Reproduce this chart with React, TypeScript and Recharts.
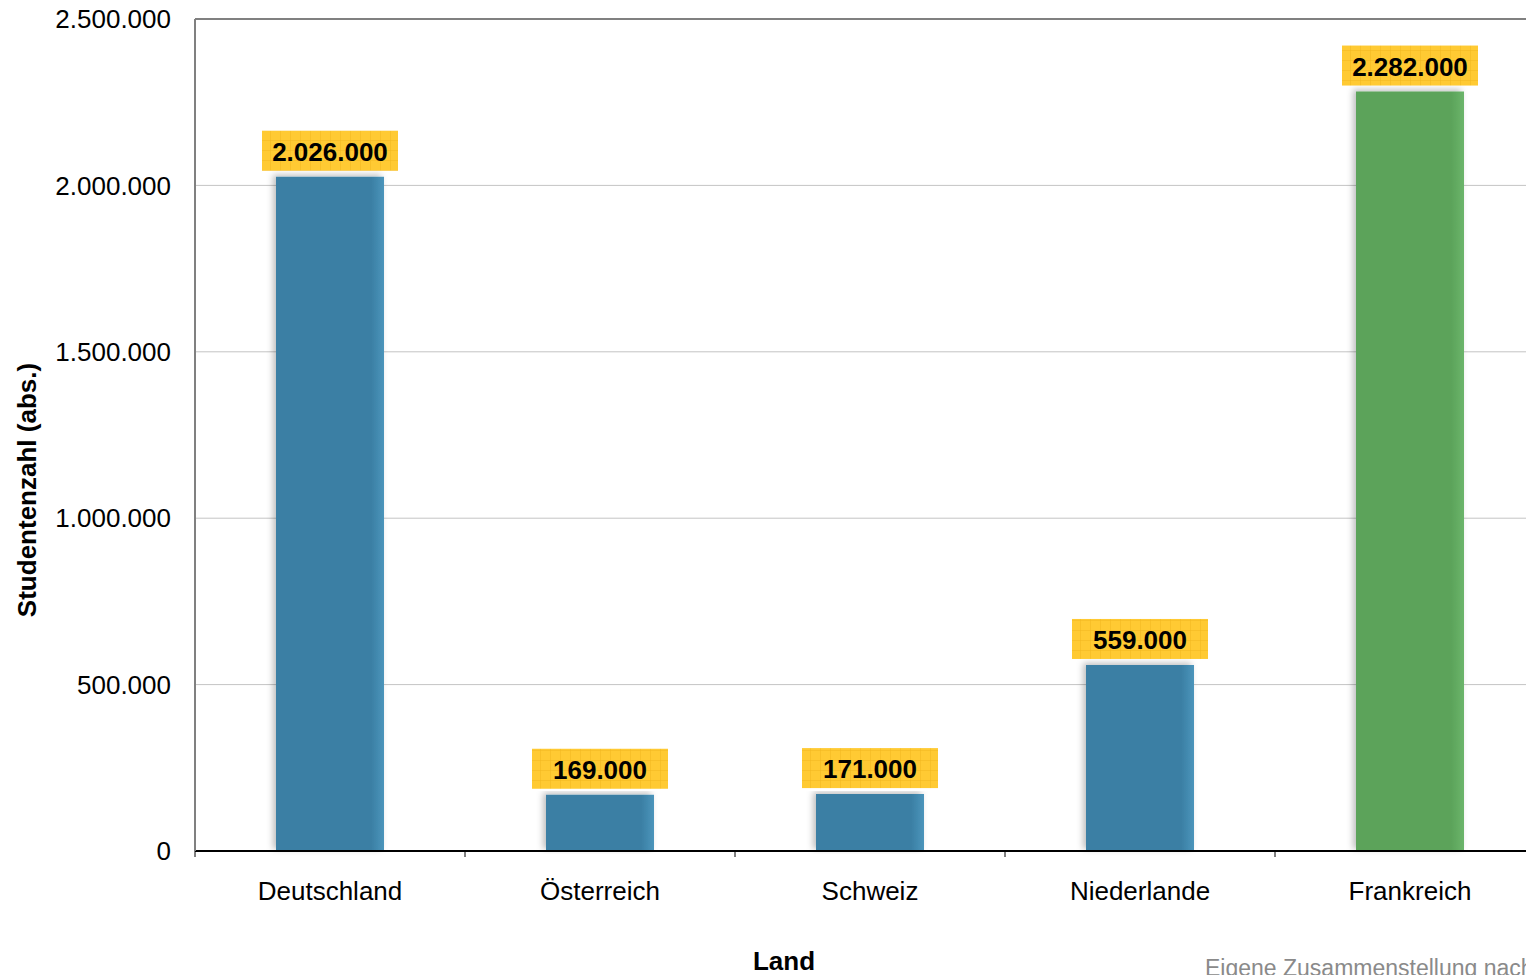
import {
  BarChart,
  Bar,
  XAxis,
  YAxis,
  CartesianGrid,
  ReferenceLine,
  LabelList,
  Cell,
} from "recharts";

const laender = ["Deutschland", "Österreich", "Schweiz", "Niederlande", "Frankreich"];
const studenten = [2026000, 169000, 171000, 559000, 2282000];
const farben = ["blue", "blue", "blue", "blue", "green"];
const yTicks = [0, 500000, 1000000, 1500000, 2000000, 2500000];

const data = laender.map((land, i) => ({ land, wert: studenten[i], farbe: farben[i] }));

const font = "'Liberation Sans', Arial, sans-serif";

// 2026000 -> "2.026.000"
const fmt = (v: number) => String(v).replace(/\B(?=(\d{3})+(?!\d))/g, ".");

function XTick(props: any) {
  const { x, y, payload } = props;
  const left = x - (payload.offset || 0);
  return (
    <g>
      <line x1={left} y1={851} x2={left} y2={857} stroke="#000" strokeWidth={1} />
      <text x={x} y={y + 41} textAnchor="middle" fontSize={26} fontFamily={font} fill="#000">
        {payload.value}
      </text>
    </g>
  );
}

function WertLabel(props: any) {
  const { x, y, width, value } = props;
  const cx = x + width / 2;
  const w = 136;
  const h = 40;
  const top = y - 6 - h;
  return (
    <g>
      <rect x={cx - w / 2} y={top} width={w} height={h} fill="url(#gelbRaster)" />
      <text
        x={cx}
        y={top + h / 2 + 1}
        textAnchor="middle"
        dominantBaseline="central"
        fontSize={26}
        fontWeight="bold"
        fontFamily={font}
        fill="#000"
      >
        {fmt(value)}
      </text>
    </g>
  );
}

function YLabel() {
  return (
    <text
      x={27}
      y={490}
      transform="rotate(-90 27 490)"
      textAnchor="middle"
      dominantBaseline="central"
      fontSize={26}
      fontWeight="bold"
      fontFamily={font}
      fill="#000"
    >
      Studentenzahl (abs.)
    </text>
  );
}

function XLabel() {
  return (
    <text
      x={784}
      y={970}
      textAnchor="middle"
      fontSize={26}
      fontWeight="bold"
      fontFamily={font}
      fill="#000"
    >
      Land
    </text>
  );
}

export default function App() {
  return (
    <div
      style={{
        position: "absolute",
        left: 0,
        top: 0,
        width: 1526,
        height: 975,
        overflow: "hidden",
        background: "#fff",
        fontFamily: font,
      }}
    >
      <BarChart
        width={1560}
        height={975}
        data={data}
        margin={{ top: 19, right: 15, left: 0, bottom: 0 }}
      >
        <defs>
          <pattern id="gelbRaster" width="10" height="10" patternUnits="userSpaceOnUse">
            <rect width="10" height="10" fill="#ffca33" />
            <path d="M10 0 L0 0 0 10" fill="none" stroke="#f2b61e" strokeWidth="1" />
          </pattern>
          <linearGradient id="blauVerlauf" x1="0" y1="0" x2="1" y2="0">
            <stop offset="0%" stopColor="#3a7fa4" />
            <stop offset="88%" stopColor="#3a7fa4" />
            <stop offset="100%" stopColor="#4c95bb" />
          </linearGradient>
          <linearGradient id="gruenVerlauf" x1="0" y1="0" x2="1" y2="0">
            <stop offset="0%" stopColor="#5ba35a" />
            <stop offset="88%" stopColor="#5ba35a" />
            <stop offset="100%" stopColor="#6cb56b" />
          </linearGradient>
          <filter id="schatten" x="-20%" y="-5%" width="140%" height="110%">
            <feDropShadow dx="-3" dy="-2" stdDeviation="3" floodColor="#000" floodOpacity="0.25" />
          </filter>
        </defs>
        <CartesianGrid vertical={false} stroke="#c4c4c4" strokeWidth={1} />
        <XAxis
          dataKey="land"
          axisLine={{ stroke: "#000", strokeWidth: 2 }}
          tickLine={false}
          tick={<XTick />}
          interval={0}
          height={124}
          label={<XLabel />}
        />
        <YAxis
          width={195}
          domain={[0, 2500000]}
          ticks={yTicks}
          tickFormatter={fmt}
          axisLine={{ stroke: "#808080", strokeWidth: 2 }}
          tickLine={false}
          tickSize={0}
          tickMargin={24}
          tick={{ fontSize: 26, fill: "#000", fontFamily: font }}
          label={<YLabel />}
        />
        <ReferenceLine y={2500000} stroke="#808080" strokeWidth={2} />
        <Bar dataKey="wert" barSize={108} isAnimationActive={false} filter="url(#schatten)">
          {data.map((d) => (
            <Cell
              key={d.land}
              fill={d.farbe === "green" ? "url(#gruenVerlauf)" : "url(#blauVerlauf)"}
            />
          ))}
          <LabelList dataKey="wert" content={<WertLabel />} />
        </Bar>
      </BarChart>
      <div
        style={{
          position: "absolute",
          left: 1205,
          top: 955,
          fontSize: 23,
          lineHeight: "26px",
          color: "#8a8a8a",
          whiteSpace: "nowrap",
        }}
      >
        Eigene Zusammenstellung nach
      </div>
    </div>
  );
}
